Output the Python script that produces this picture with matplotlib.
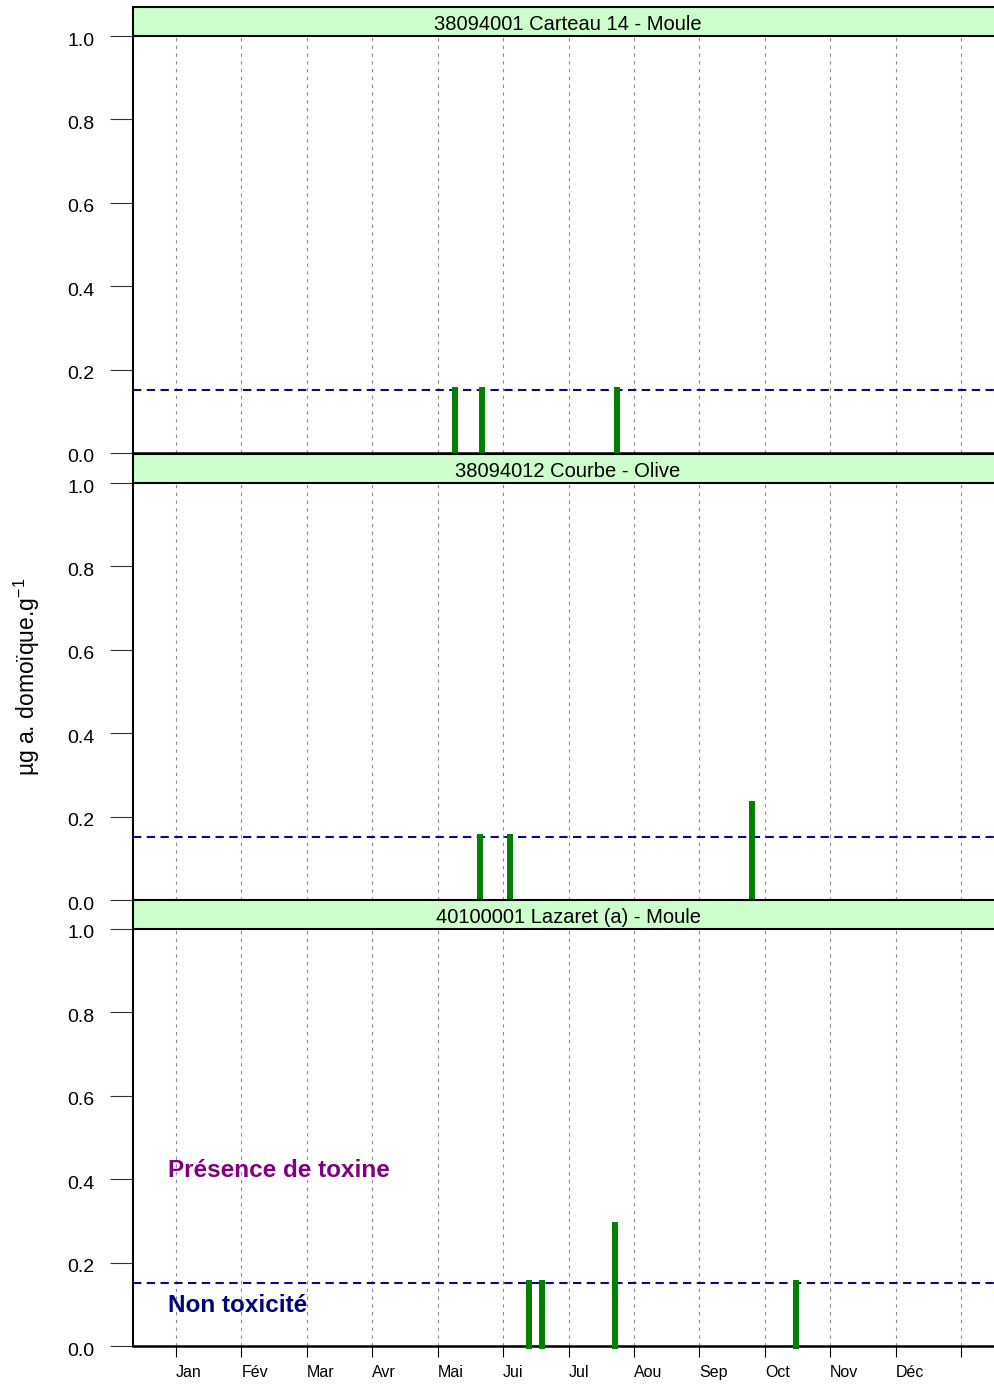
import calendar
import numpy as np
import matplotlib
matplotlib.use('Agg')
import matplotlib.pyplot as plt
import matplotlib.transforms as mtransforms
from matplotlib.patches import Rectangle

plt.rcParams['font.family'] = ['Liberation Sans', 'DejaVu Sans']

# Stations and domoic acid results (ug/g)
stations = ['38094001 Carteau 14 - Moule',
            '38094012 Courbe - Olive',
            '40100001 Lazaret (a) - Moule']
dates_1 = ['2016-05-09', '2016-05-22', '2016-07-24']
values_1 = [0.15, 0.15, 0.15]
dates_2 = ['2016-05-21', '2016-06-04', '2016-09-25']
values_2 = [0.15, 0.15, 0.23]
dates_3 = ['2016-06-13', '2016-06-19', '2016-07-23', '2016-10-16']
values_3 = [0.15, 0.15, 0.29, 0.15]

months = ['Jan', 'Fév', 'Mar', 'Avr', 'Mai', 'Jui', 'Jul', 'Aou', 'Sep',
          'Oct', 'Nov', 'Déc']
seuil = 0.15
yticks = [0.0, 0.2, 0.4, 0.6, 0.8, 1.0]


def month_pos(d):
    """Date string -> position in months from Jan 1 (uniform month width)."""
    y, m, j = [int(v) for v in d.split('-')]
    ndays = calendar.monthrange(y, m)[1]
    return (m - 1) + (j - 1) / float(ndays)


W, H = 994, 1385
fig = plt.figure(figsize=(W / 100., H / 100.), dpi=100)

left = 133
right = 1004
panel_px = [(36, 453), (483, 900), (929, 1346)]
head_h = 29
data = [(dates_1, values_1), (dates_2, values_2), (dates_3, values_3)]

# shift tick labels down a few pixels
down = mtransforms.ScaledTranslation(0, -3 / 100., fig.dpi_scale_trans)

axes = []
for i, ((top, bot), (dates, vals)) in enumerate(zip(panel_px, data)):
    ax = fig.add_axes([left / W, 1 - bot / H, (right - left) / W, (bot - top) / H])
    axes.append(ax)
    ax.set_xlim(-0.657, 12.657)
    ax.set_ylim(0, 1.0)

    # month grid
    for k in range(13):
        ax.axvline(k, color='#8c8c8c', lw=0.8, ls=(0, (3, 4)), zorder=1)

    # threshold line
    ax.axhline(seuil, color='#0a0a8c', lw=1.5, ls=(0, (4, 2.6)), zorder=2)

    x = [month_pos(d) for d in dates]
    ax.vlines(x, 0, vals, color='#008000', lw=4.3, capstyle='projecting',
              zorder=3, clip_on=False)

    for s in ['top', 'right']:
        ax.spines[s].set_visible(False)
    ax.spines['left'].set_linewidth(1.5)
    ax.spines['bottom'].set_linewidth(1.8)

    ax.set_yticks(yticks)
    ax.set_yticklabels(['%.1f' % v for v in yticks], fontsize=14)
    ax.tick_params(axis='y', length=16.5, width=0.8, pad=11, color='#333333')
    for lab in ax.get_yticklabels():
        lab.set_transform(lab.get_transform() + down)

    if i < 2:
        ax.set_xticks([])
    else:
        ax.set_xticks(range(13))
        ax.set_xticklabels(months + [''], fontsize=11.5, ha='left')
        ax.tick_params(axis='x', length=8, width=0.8, pad=6)

    # station header strip
    hh = head_h / float(bot - top)
    ax.add_patch(Rectangle((0, 1.0), 1.05, hh, transform=ax.transAxes,
                           facecolor='#ccffcc', edgecolor='black', lw=1.5,
                           clip_on=False, zorder=5))
    ax.text((568 - left) / float(right - left), 1.0 + hh / 2, stations[i],
            transform=ax.transAxes + down, ha='center', va='center',
            fontsize=14.5, zorder=6)

ax3 = axes[2]
ax3.text(-0.12, 0.42, 'Présence de toxine', color='#800080', fontsize=17.5,
         fontweight='bold', ha='left', va='center', zorder=4)
ax3.text(-0.12, 0.098, 'Non toxicité', color='#000080', fontsize=17.5,
         fontweight='bold', ha='left', va='center', zorder=4)

fig.text(27 / W, 1 - 677 / H, 'µg a. domoïque.g$^{\\mathregular{-1}}$',
         rotation=90, ha='center', va='center', fontsize=16.5)

fig.savefig('out.png', dpi=100)
